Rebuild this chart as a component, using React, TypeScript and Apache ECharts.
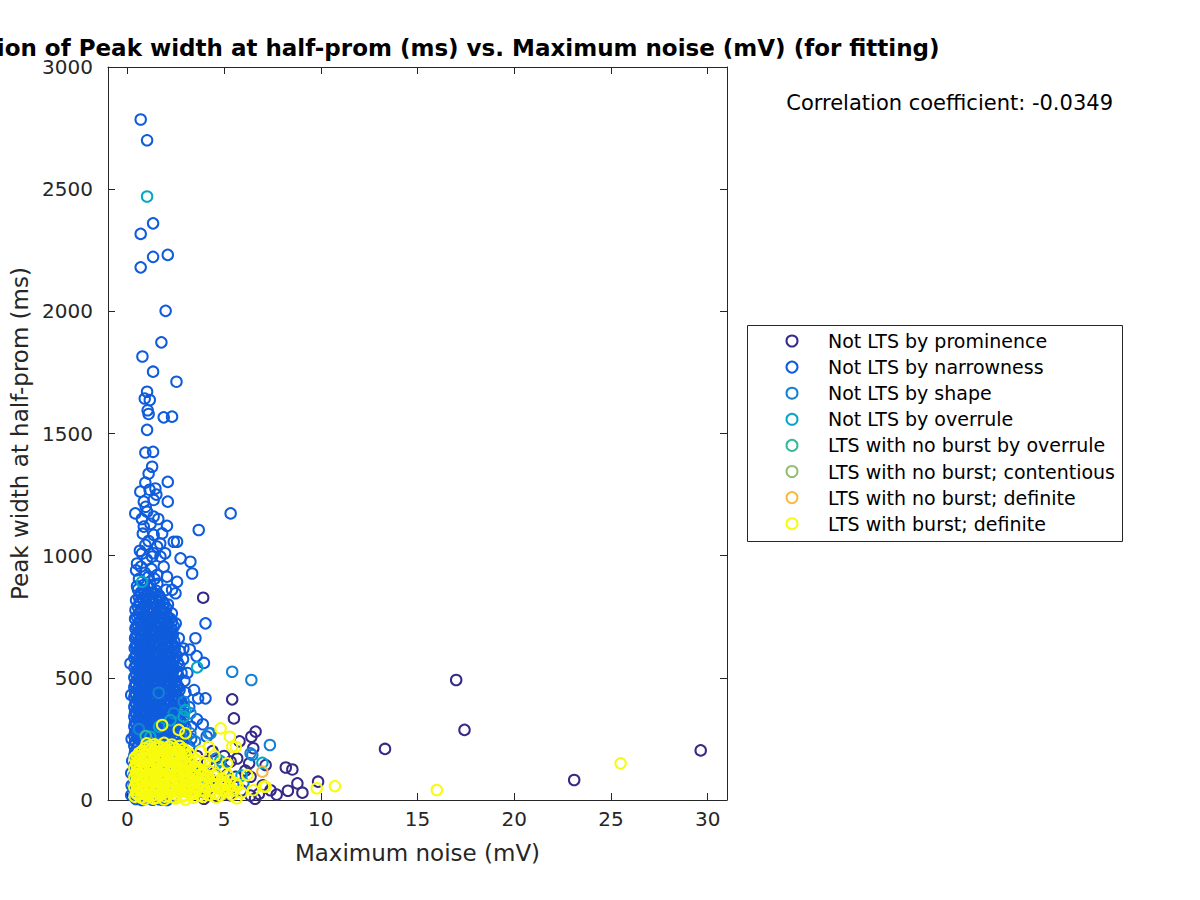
import React, { useEffect, useRef } from "react";
import * as echarts from "echarts";

const seriesNames = [
  "Not LTS by prominence",
  "Not LTS by narrowness",
  "Not LTS by shape",
  "Not LTS by overrule",
  "LTS with no burst by overrule",
  "LTS with no burst; contentious",
  "LTS with no burst; definite",
  "LTS with burst; definite",
];
const seriesColors = ["#352a87", "#0f5cdd", "#1481d6", "#06a7c6", "#38b99e", "#92bf73", "#f8ba43", "#f9fb0e"];

const xTicks = [0, 5, 10, 15, 20, 25, 30];

const prominence = [
  [3.92, 828], [5.42, 412], [5.51, 334], [17.0, 491], [17.43, 287], [13.32, 209], [29.64, 203], [23.1, 82],
  [9.86, 75], [8.79, 68], [8.19, 133], [8.53, 125], [8.3, 38], [9.05, 30], [7.72, 22], [6.63, 280], [6.41, 259],
  [6.51, 212], [5.68, 170], [7.15, 143], [6.37, 95], [6.37, 18], [4.13, 157], [4.82, 136], [5.34, 157], [3.78, 95],
  [5.16, 55], [4.5, 110], [3.5, 60], [4.0, 30], [4.6, 15], [5.9, 40], [6.1, 120], [5.6, 95], [7.0, 60], [3.2, 130],
  [2.9, 40], [3.96, 5], [4.9, 75], [6.8, 25], [5.3, 20], [3.6, 180], [4.4, 200], [3.0, 165], [2.6, 110], [7.4, 40],
  [6.3, 150], [5.0, 180], [4.3, 85], [3.9, 120], [2.4, 20], [1.8, 2], [6.6, 5], [5.8, 240],
];

const narrowness = [
  [0.55, 862], [0.85, 858], [1.2, 865], [1.5, 856],
  [0.7, 850], [1.05, 852], [1.35, 849],
  [0.7, 842], [1.02, 838], [1.35, 845], [1.65, 836],
  [0.6, 830], [0.95, 832], [1.25, 828], [1.6, 831],
  [0.45, 818], [0.8, 824], [1.1, 816], [1.45, 822], [1.8, 815],
  [0.65, 810], [0.98, 812], [1.3, 808], [1.65, 811],
  [0.62, 802], [0.95, 797], [1.25, 805], [1.58, 799], [1.9, 803],
  [0.55, 790], [0.88, 792], [1.2, 788], [1.52, 791], [1.85, 789],
  [0.42, 778], [0.78, 784], [1.08, 776], [1.38, 782], [1.7, 777], [2.02, 785],
  [0.68, 770], [1.0, 772], [1.32, 768], [1.65, 771], [1.95, 769],
  [0.58, 762], [0.88, 757], [1.2, 765], [1.5, 758], [1.82, 763],
  [0.5, 750], [0.82, 752], [1.12, 748], [1.45, 751], [1.75, 749], [2.05, 752],
  [0.4, 742], [0.72, 736], [1.02, 744], [1.32, 738], [1.62, 745], [1.95, 737], [2.2, 743],
  [0.62, 730], [0.95, 732], [1.25, 728], [1.58, 731], [1.9, 729], [2.3, 731],
  [0.55, 718], [0.85, 724], [1.15, 716], [1.45, 722], [1.78, 717], [2.08, 725],
  [0.48, 710], [0.78, 712], [1.08, 708], [1.4, 711], [1.72, 709], [2.05, 712], [2.4, 710],
  [0.42, 702], [0.7, 696], [1.0, 704], [1.3, 698], [1.6, 703], [1.9, 697], [2.25, 701],
  [0.6, 690], [0.9, 692], [1.2, 688], [1.5, 691], [1.82, 689], [2.15, 692],
  [0.52, 678], [0.82, 684], [1.12, 676], [1.42, 682], [1.75, 677], [2.05, 685], [2.35, 679],
  [0.45, 670], [0.75, 672], [1.05, 668], [1.35, 671], [1.68, 669], [2.0, 672], [2.3, 670],
  [0.4, 662], [0.68, 656], [0.98, 664], [1.28, 658], [1.58, 663], [1.88, 657], [2.18, 665],
  [0.58, 650], [0.88, 652], [1.2, 648], [1.5, 651], [1.8, 649], [2.1, 652], [2.42, 650],
  [0.5, 638], [0.8, 644], [1.1, 636], [1.4, 642], [1.7, 637], [2.0, 645], [2.32, 639],
  [0.45, 630], [0.75, 632], [1.05, 628], [1.35, 631], [1.65, 629], [1.95, 632], [2.28, 630],
  [0.38, 622], [0.65, 616], [0.95, 624], [1.25, 618], [1.55, 623], [1.85, 617], [2.15, 625], [2.45, 619],
  [0.55, 610], [0.85, 612], [1.15, 608], [1.45, 611], [1.78, 609], [2.1, 612], [2.4, 610],
  [0.48, 598], [0.78, 604], [1.08, 596], [1.38, 602], [1.68, 597], [1.98, 605], [2.3, 599],
  [0.45, 590], [0.75, 592], [1.05, 588], [1.35, 591], [1.65, 589], [1.95, 592], [2.25, 590], [2.55, 591],
  [0.36, 582], [0.62, 576], [0.92, 584], [1.22, 578], [1.52, 583], [1.82, 577], [2.12, 585], [2.45, 579],
  [0.55, 570], [0.85, 572], [1.15, 568], [1.45, 571], [1.75, 569], [2.05, 572], [2.4, 570],
  [0.45, 558], [0.75, 564], [1.05, 556], [1.35, 562], [1.65, 557], [1.95, 565], [2.28, 559], [2.6, 563],
  [0.48, 550], [0.78, 552], [1.08, 548], [1.38, 551], [1.68, 549], [2.0, 552], [2.32, 550], [2.68, 551],
  [0.37, 542], [0.6, 536], [0.9, 544], [1.2, 538], [1.5, 543], [1.8, 537], [2.1, 545], [2.42, 539],
  [0.55, 530], [0.85, 532], [1.15, 528], [1.45, 531], [1.75, 529], [2.05, 532], [2.38, 530],
  [0.45, 518], [0.72, 524], [1.02, 516], [1.32, 522], [1.62, 517], [1.92, 525], [2.25, 519], [2.55, 523],
  [0.48, 510], [0.75, 512], [1.05, 508], [1.35, 511], [1.65, 509], [1.95, 512], [2.3, 510], [2.62, 511],
  [0.36, 502], [0.58, 496], [0.88, 504], [1.18, 498], [1.48, 503], [1.78, 497], [2.08, 505], [2.38, 499],
  [0.55, 490], [0.85, 492], [1.15, 488], [1.45, 491], [1.75, 489], [2.05, 492], [2.35, 490],
  [0.42, 478], [0.7, 484], [1.0, 476], [1.3, 482], [1.6, 477], [1.9, 485], [2.2, 479], [2.52, 483],
  [0.45, 470], [0.72, 472], [1.02, 468], [1.32, 471], [1.62, 469], [1.92, 472], [2.22, 470], [2.55, 471],
  [0.36, 462], [0.56, 456], [0.85, 464], [1.15, 458], [1.45, 463], [1.75, 457], [2.05, 465], [2.35, 459], [2.65, 461],
  [0.52, 450], [0.82, 452], [1.12, 448], [1.42, 451], [1.72, 449], [2.02, 452], [2.35, 450], [2.7, 451],
  [0.4, 438], [0.68, 444], [0.98, 436], [1.28, 442], [1.58, 437], [1.88, 445], [2.18, 439], [2.5, 443],
  [0.45, 430], [0.7, 432], [1.0, 428], [1.3, 431], [1.6, 429], [1.9, 432], [2.2, 430], [2.5, 431],
  [0.36, 422], [0.55, 416], [0.82, 424], [1.12, 418], [1.42, 423], [1.72, 417], [2.02, 425], [2.32, 419], [2.62, 421],
  [0.55, 410], [0.85, 412], [1.15, 408], [1.45, 411], [1.75, 409], [2.05, 412], [2.38, 410], [2.68, 411],
  [0.42, 398], [0.7, 404], [1.0, 396], [1.3, 402], [1.6, 397], [1.9, 405], [2.2, 399], [2.5, 403], [2.8, 398],
  [0.48, 390], [0.72, 392], [1.02, 388], [1.32, 391], [1.62, 389], [1.92, 392], [2.22, 390], [2.55, 391],
  [0.36, 382], [0.56, 376], [0.85, 384], [1.15, 378], [1.45, 383], [1.75, 377], [2.05, 385], [2.35, 379], [2.68, 381],
  [0.55, 370], [0.85, 372], [1.15, 368], [1.45, 371], [1.75, 369], [2.05, 372], [2.35, 370], [2.72, 371],
  [0.4, 358], [0.68, 364], [0.98, 356], [1.28, 362], [1.58, 357], [1.88, 365], [2.18, 359], [2.5, 363], [2.85, 360],
  [0.48, 350], [0.7, 352], [1.0, 348], [1.3, 351], [1.6, 349], [1.9, 352], [2.2, 350], [2.5, 351],
  [0.36, 342], [0.55, 336], [0.82, 344], [1.12, 338], [1.42, 343], [1.72, 337], [2.02, 345], [2.32, 339], [2.62, 341],
  [0.55, 330], [0.85, 332], [1.15, 328], [1.45, 331], [1.75, 329], [2.05, 332], [2.4, 330], [2.7, 331],
  [0.4, 318], [0.7, 324], [1.0, 316], [1.3, 322], [1.6, 317], [1.9, 325], [2.2, 319], [2.5, 323], [2.8, 318],
  [0.48, 310], [0.72, 312], [1.02, 308], [1.32, 311], [1.62, 309], [1.92, 312], [2.22, 310], [2.55, 311], [2.9, 309],
  [0.36, 302], [0.55, 296], [0.85, 304], [1.15, 298], [1.45, 303], [1.75, 297], [2.05, 305], [2.35, 299], [2.7, 301], [3.0, 297],
  [0.55, 290], [0.85, 292], [1.15, 288], [1.45, 291], [1.75, 289], [2.05, 292], [2.4, 290], [2.75, 291],
  [0.4, 278], [0.68, 284], [0.98, 276], [1.28, 282], [1.58, 277], [1.88, 285], [2.2, 279], [2.55, 283], [2.9, 280],
  [0.48, 270], [0.7, 272], [1.0, 268], [1.3, 271], [1.6, 269], [1.9, 272], [2.2, 270], [2.55, 271], [2.88, 269],
  [0.36, 262], [0.55, 256], [0.82, 264], [1.12, 258], [1.42, 263], [1.72, 257], [2.02, 265], [2.35, 259], [2.7, 261], [3.05, 258],
  [0.55, 250], [0.85, 252], [1.15, 248], [1.45, 251], [1.75, 249], [2.05, 252], [2.4, 250], [2.7, 251],
  [0.4, 238], [0.7, 244], [1.0, 236], [1.3, 242], [1.6, 237], [1.9, 245], [2.2, 239], [2.5, 243], [2.85, 240],
  [0.36, 222], [0.55, 216], [0.85, 224], [1.15, 218], [1.45, 223], [1.75, 217], [2.1, 225], [2.45, 219], [2.8, 221], [3.2, 218],
  [0.4, 198], [0.68, 204], [0.98, 196], [1.3, 202], [1.65, 197], [2.0, 205], [2.35, 199], [2.7, 203],
  [0.36, 182], [0.55, 176], [0.9, 184], [1.25, 178], [1.6, 183], [2.0, 177], [2.4, 185], [2.9, 180],
  [0.4, 158], [0.7, 164], [1.05, 156], [1.45, 162], [1.85, 157], [2.3, 165], [2.75, 160],
  [0.36, 142], [0.55, 136], [0.9, 144], [1.3, 138], [1.7, 143], [2.15, 137], [2.6, 145], [3.1, 140],
  [0.42, 118], [0.75, 124], [1.1, 116], [1.5, 122], [1.95, 117], [2.45, 125],
  [0.36, 102], [0.6, 96], [0.95, 104], [1.35, 98], [1.8, 103], [2.3, 97], [2.8, 101],
  [0.4, 78], [0.75, 84], [1.15, 76], [1.6, 82], [2.1, 77],
  [0.36, 62], [0.6, 56], [1.0, 64], [1.45, 58], [1.95, 63], [2.5, 57],
  [0.4, 38], [0.8, 44], [1.25, 36], [1.75, 42], [2.3, 37],
  [0.36, 22], [0.65, 16], [1.05, 24], [1.5, 18], [2.0, 23],
  [0.45, 4], [0.75, 0], [1.0, 6], [1.3, 1], [1.65, 3], [2.05, 0],
  [0.69, 2785], [1.02, 2700], [1.33, 2360], [0.69, 2317], [1.33, 2223], [2.09, 2231], [0.69, 2180], [1.98, 2002],
  [1.76, 1873], [0.78, 1815], [1.33, 1753], [2.54, 1712], [1.02, 1671], [0.9, 1643], [1.16, 1637], [1.05, 1595],
  [1.88, 1566], [2.31, 1569], [1.1, 1580], [1.02, 1515], [0.93, 1422], [1.33, 1425], [1.28, 1364], [1.1, 1336],
  [0.93, 1299], [2.09, 1302], [0.67, 1262], [1.45, 1275], [0.85, 1221], [1.36, 1228], [2.09, 1221], [0.41, 1173],
  [1.02, 1180], [5.34, 1173], [1.36, 1160], [0.85, 1119], [2.05, 1122], [3.69, 1105], [1.36, 1085], [1.8, 1091],
  [2.57, 1057], [2.4, 1057], [0.93, 1044], [1.54, 1037], [0.76, 1009], [1.28, 996], [1.71, 996], [2.75, 989],
  [3.26, 975], [0.5, 968], [1.88, 955], [3.35, 927], [2.57, 893], [1.1, 914], [1.54, 921], [2.05, 914], [2.31, 860],
  [2.49, 846],
  [0.45, 940], [0.7, 955], [0.9, 930], [1.25, 945], [1.4, 905], [0.6, 905], [1.2, 880], [0.85, 880], [1.55, 885],
  [0.5, 875], [1.0, 985], [1.35, 1010], [0.65, 1020], [1.1, 1060], [0.8, 1090], [1.6, 1150], [1.2, 1130], [0.95, 1200],
  [1.5, 1250], [1.15, 1270], [0.75, 1150], [1.7, 1050], [1.95, 1010],
  [2.3, 764], [2.5, 723], [2.66, 662], [3.52, 662], [3.23, 616], [3.58, 589], [2.88, 576], [3.96, 561], [4.04, 723],
  [3.66, 416], [4.04, 416], [2.95, 488], [2.92, 382], [3.2, 380], [3.0, 440], [2.8, 520], [2.7, 610], [3.1, 520],
  [3.3, 300], [3.6, 330], [4.1, 260], [3.9, 310], [3.45, 450], [2.1, 800], [2.3, 700], [2.9, 620], [3.3, 250],
  [2.0, 860], [0.16, 559], [0.2, 430],
  [0.2, 20], [0.22, 60], [0.2, 110], [0.25, 160], [0.22, 250],
];

const shape = [
  [5.42, 525], [6.41, 491], [7.37, 225], [6.46, 184], [6.37, 191], [1.62, 439], [4.3, 273], [3.26, 355], [2.4, 355],
  [3.26, 273], [4.21, 273], [2.92, 402], [0.6, 290], [1.6, 230], [2.2, 140], [3.5, 240], [4.6, 170], [5.0, 120],
  [6.0, 70], [3.9, 50],
];

const overrule = [
  [1.02, 2470], [0.76, 893], [3.61, 543], [2.92, 341], [2.23, 327], [3.0, 368], [6.98, 152], [1.19, 259], [4.8, 160],
  [5.9, 100], [2.3, 210], [1.65, 300],
];

const ltsOverrule = [[0.5, 157], [0.95, 262], [2.6, 200], [3.4, 110], [4.6, 60], [0.45, 100]];

const contentious = [[1.4, 100], [2.2, 60], [0.7, 40], [3.0, 90]];

const noBurstDefinite = [[6.98, 116], [3.2, 40], [1.5, 20], [4.3, 70], [2.5, 150], [0.8, 10], [5.2, 40]];

const burstDefinite = [
  [1.0, 232], [1.4, 228], [1.9, 234], [2.3, 227],
  [1.15, 220], [1.55, 222], [2.15, 219], [2.7, 221],
  [0.9, 212], [1.25, 208], [1.6, 214], [2.0, 207], [2.45, 213], [2.9, 209],
  [0.75, 200], [1.1, 202], [1.45, 198], [1.8, 201], [2.2, 199], [2.6, 201], [3.0, 200],
  [0.6, 192], [0.95, 188], [1.3, 194], [1.65, 187], [2.0, 193], [2.35, 189], [2.7, 195], [3.2, 190],
  [0.5, 180], [0.85, 182], [1.2, 178], [1.55, 181], [1.9, 179], [2.25, 182], [2.6, 180], [3.05, 181],
  [0.38, 172], [0.7, 168], [1.05, 174], [1.4, 167], [1.75, 173], [2.1, 169], [2.45, 175], [2.85, 170], [3.5, 168],
  [0.55, 160], [0.95, 162], [1.3, 158], [1.65, 161], [2.0, 159], [2.38, 162], [2.75, 160], [3.2, 161], [3.75, 159],
  [0.45, 148], [0.8, 154], [1.15, 146], [1.5, 152], [1.85, 147], [2.2, 155], [2.55, 149], [2.95, 153], [3.35, 148], [4.0, 151],
  [0.5, 140], [0.85, 142], [1.2, 138], [1.55, 141], [1.9, 139], [2.25, 142], [2.62, 140], [3.05, 141], [3.5, 139], [4.3, 141],
  [0.36, 132], [0.65, 126], [1.0, 134], [1.35, 128], [1.7, 133], [2.05, 127], [2.4, 135], [2.8, 129], [3.2, 133], [3.7, 128],
  [0.5, 120], [0.85, 122], [1.2, 118], [1.55, 121], [1.9, 119], [2.25, 122], [2.62, 120], [3.0, 121], [3.5, 119], [4.2, 121],
  [0.45, 108], [0.8, 114], [1.15, 106], [1.5, 112], [1.85, 107], [2.2, 115], [2.55, 109], [2.95, 113], [3.35, 108], [3.9, 112], [4.6, 107],
  [0.5, 100], [0.8, 102], [1.15, 98], [1.5, 101], [1.85, 99], [2.2, 102], [2.58, 100], [2.95, 101], [3.38, 99], [3.9, 101], [4.5, 99], [5.2, 101],
  [0.36, 92], [0.62, 86], [0.95, 94], [1.3, 88], [1.65, 93], [2.0, 87], [2.4, 95], [2.75, 89], [3.15, 93], [3.6, 88], [4.2, 92], [4.9, 87],
  [0.5, 80], [0.8, 82], [1.15, 78], [1.5, 81], [1.85, 79], [2.2, 82], [2.6, 80], [3.0, 81], [3.45, 79], [3.95, 81], [4.6, 79], [5.3, 81],
  [0.45, 68], [0.8, 74], [1.15, 66], [1.5, 72], [1.85, 67], [2.2, 75], [2.6, 69], [3.0, 73], [3.4, 68], [3.85, 72], [4.4, 67], [5.0, 73], [5.6, 69],
  [0.5, 60], [0.8, 62], [1.15, 58], [1.5, 61], [1.85, 59], [2.2, 62], [2.6, 60], [3.0, 61], [3.45, 59], [3.9, 61], [4.4, 59], [5.0, 61], [5.7, 59],
  [0.36, 52], [0.62, 46], [0.95, 54], [1.3, 48], [1.65, 53], [2.0, 47], [2.4, 55], [2.8, 49], [3.2, 53], [3.65, 48], [4.1, 52], [4.7, 47], [5.3, 53],
  [0.5, 40], [0.8, 42], [1.15, 38], [1.5, 41], [1.85, 39], [2.2, 42], [2.6, 40], [3.0, 41], [3.45, 39], [3.9, 41], [4.3, 39], [4.9, 41], [5.5, 39],
  [0.45, 28], [0.8, 34], [1.15, 26], [1.5, 32], [1.85, 27], [2.25, 35], [2.65, 29], [3.05, 33], [3.5, 28], [4.0, 32], [4.5, 27], [5.1, 33],
  [0.55, 20], [0.9, 22], [1.3, 18], [1.7, 21], [2.1, 19], [2.5, 22], [2.9, 20], [3.3, 21], [3.75, 19], [4.25, 21], [4.8, 19], [5.4, 21],
  [0.38, 14], [0.7, 10], [1.1, 15], [1.5, 9], [1.95, 14], [2.4, 10], [2.9, 15], [3.4, 9], [3.9, 13], [4.6, 10],
  [1.36, 5], [1.9, 2], [2.5, 6], [3.0, 2], [5.65, 7], [0.9, 3],
  [1.8, 307], [2.66, 287], [3.0, 273], [4.82, 293], [5.3, 259], [4.21, 218], [5.42, 218], [5.6, 218], [1.71, 218],
  [5.16, 150], [6.2, 102], [7.15, 55], [9.79, 48], [10.73, 57], [16.0, 41], [25.5, 150], [7.06, 55], [4.5, 180],
  [3.8, 200], [5.9, 30], [6.5, 40],
];

const seriesData = [prominence, narrowness, shape, overrule, ltsOverrule, contentious, noBurstDefinite, burstDefinite];

const titleText = "Correlation of Peak width at half-prom (ms) vs. Maximum noise (mV) (for fitting)";
const corrText = "Correlation coefficient: -0.0349";
const xLabel = "Maximum noise (mV)";
const yLabel = "Peak width at half-prom (ms)";

const FONT = "DejaVu Sans";
const AXIS_COLOR = "#262626";

export default function App() {
  const ref = useRef<HTMLDivElement>(null);
  useEffect(() => {
    if (!ref.current) return;
    const chart = echarts.init(ref.current, null, { renderer: "svg" });
    const line = { show: true, onZero: false, lineStyle: { color: AXIS_COLOR, width: 1 } };
    const tick = { show: true, inside: true, length: 7, lineStyle: { color: AXIS_COLOR, width: 1 } };
    chart.setOption({
      animation: false,
      backgroundColor: "#ffffff",
      grid: { left: 108, top: 67, width: 619, height: 733, containLabel: false },
      xAxis: [
        {
          type: "value",
          min: -1,
          max: 31,
          position: "bottom",
          axisLine: line,
          splitLine: { show: false },
          axisTick: { ...tick, customValues: xTicks },
          axisLabel: { show: true, customValues: xTicks, margin: 9, color: AXIS_COLOR, fontFamily: FONT, fontSize: 20 },
          name: xLabel,
          nameLocation: "middle",
          nameGap: 41,
          nameTextStyle: { color: AXIS_COLOR, fontFamily: FONT, fontSize: 23 },
        },
        {
          type: "value",
          min: -1,
          max: 31,
          position: "top",
          axisLine: line,
          splitLine: { show: false },
          axisTick: { ...tick, customValues: xTicks },
          axisLabel: { show: false },
        },
      ],
      yAxis: [
        {
          type: "value",
          min: 0,
          max: 3000,
          interval: 500,
          position: "left",
          axisLine: line,
          splitLine: { show: false },
          axisTick: tick,
          axisLabel: {
            show: true,
            margin: 15,
            color: AXIS_COLOR,
            fontFamily: FONT,
            fontSize: 20,
            formatter: (v: number) => String(v),
          },
          name: yLabel,
          nameLocation: "middle",
          nameGap: 73,
          nameTextStyle: { color: AXIS_COLOR, fontFamily: FONT, fontSize: 23 },
        },
        {
          type: "value",
          min: 0,
          max: 3000,
          interval: 500,
          position: "right",
          axisLine: line,
          splitLine: { show: false },
          axisTick: tick,
          axisLabel: { show: false },
        },
      ],
      legend: {
        orient: "vertical",
        left: 785.5,
        top: 331.5,
        padding: 0,
        itemWidth: 62,
        itemHeight: 11,
        itemGap: 7.1,
        icon: "circle",
        textStyle: { color: "#000", fontFamily: FONT, fontSize: 19, lineHeight: 19 },
        data: seriesNames,
        selectedMode: false,
      },
      graphic: [
        {
          type: "rect",
          z: 0,
          shape: { x: 747.5, y: 325.5, width: 375, height: 216 },
          style: { fill: "#fff", stroke: AXIS_COLOR, lineWidth: 1 },
        },
        {
          type: "text",
          x: 415.5,
          y: 48,
          style: { text: titleText, font: `bold 23px ${FONT}`, fill: "#000", textAlign: "center", textVerticalAlign: "middle" },
        },
        {
          type: "text",
          x: 1113,
          y: 103,
          style: { text: corrText, font: `21px ${FONT}`, fill: "#000", textAlign: "right", textVerticalAlign: "middle" },
        },
      ],
      series: seriesNames.map((name, i) => ({
        name,
        type: "scatter",
        xAxisIndex: 0,
        yAxisIndex: 0,
        symbol: "circle",
        symbolSize: 10.5,
        data: seriesData[i],
        itemStyle: { color: "rgba(255,255,255,0)", borderColor: seriesColors[i], borderWidth: 2, opacity: 1 },
        emphasis: { disabled: true },
        clip: false,
      })),
    });
    return () => chart.dispose();
  }, []);
  return <div ref={ref} style={{ position: "fixed", left: 0, top: 0, width: 1200, height: 900 }} />;
}
